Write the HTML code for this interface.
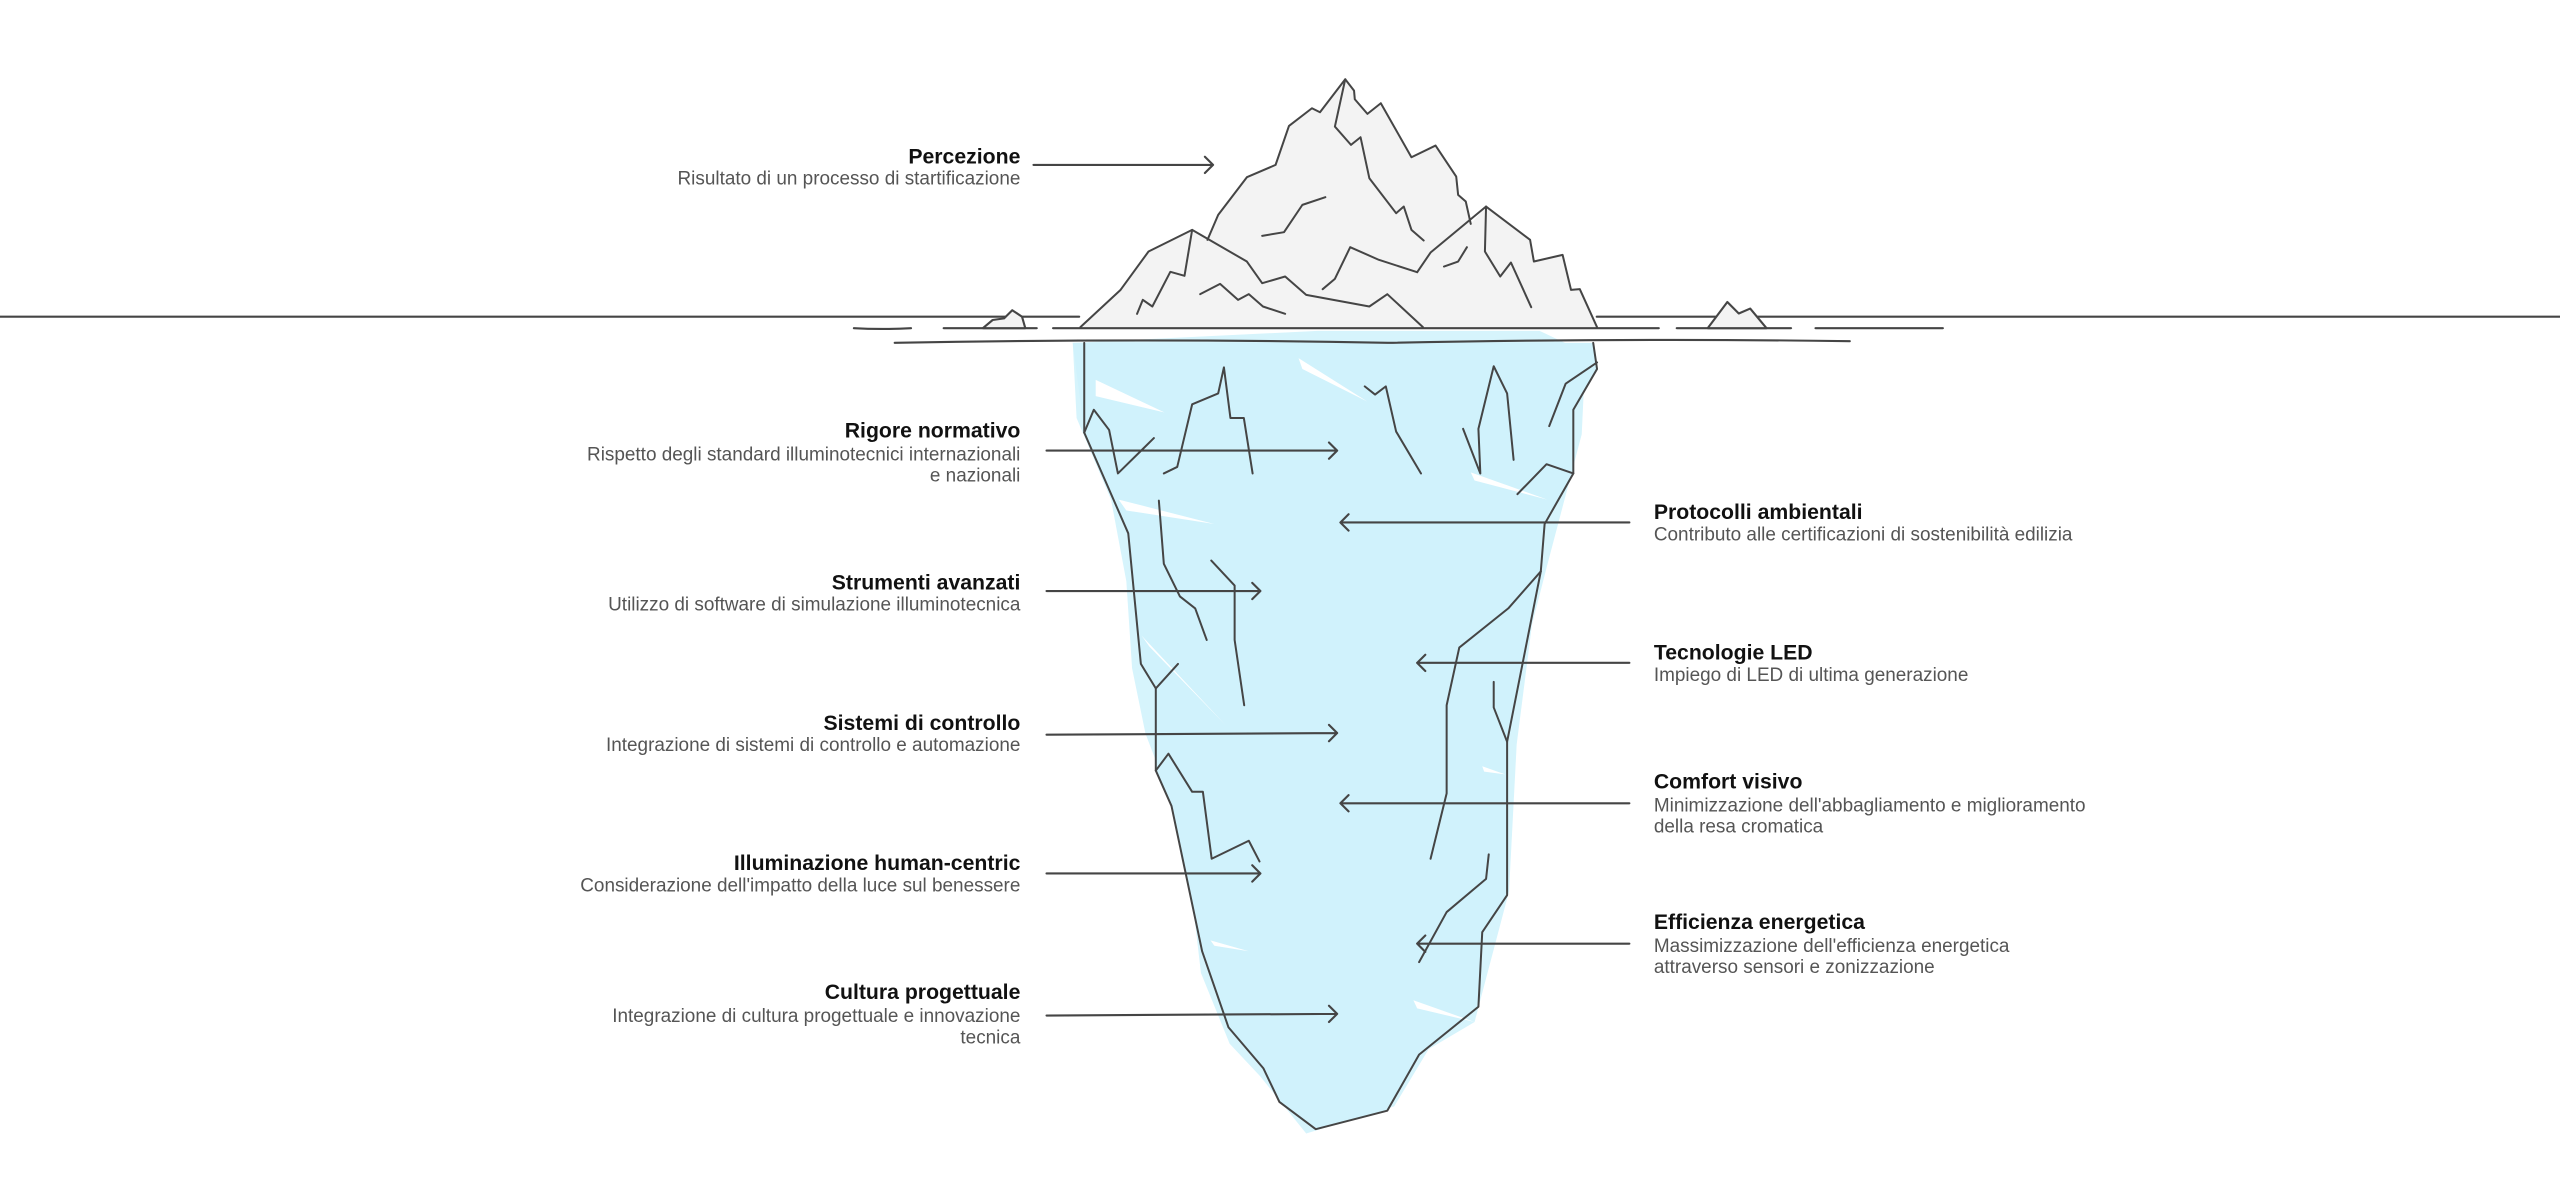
<!DOCTYPE html>
<html><head><meta charset="utf-8"><style>
html,body{margin:0;padding:0;background:#fff;width:2560px;height:1200px;overflow:hidden}
svg{display:block}
.t{font-family:"Liberation Sans",sans-serif;font-weight:bold;font-size:13px;fill:#111}
.d{font-family:"Liberation Sans",sans-serif;font-size:11.6px;fill:#555}
.s{fill:none;stroke:#454545;stroke-width:2;stroke-linejoin:round;stroke-linecap:round}
</style></head><body>
<svg width="2560" height="1200" viewBox="0 0 2560 1200" xmlns="http://www.w3.org/2000/svg">
<g transform="scale(1.63265)">
<!-- underwater -->
<g transform="translate(643,196) scale(0.2344,0.3333)">
<polygon fill="#d6f4fc" points="60,42 70,180 160,330 200,480 215,640 250,760 310,870 370,1050 395,1200 470,1330 550,1390 670,1495 900,1445 990,1340 1110,1290 1200,1050 1220,780 1260,560 1300,450 1390,210 1400,60 1280,20 700,20"/>
<polygon fill="#d0f2fc" points="60,42 90,207 205,392 238,632 277,677 277,828 318,893 398,1160 467,1300 558,1375 600,1437 695,1487 882,1453 965,1350 1120,1262 1130,1125 1195,1057 1195,775 1283,462 1293,375 1368,282 1368,165 1430,90 1420,42"/>
<g fill="#fff">
<polygon points="120,110 300,170 120,140"/><polygon points="180,330 430,375 200,350"/><polygon points="240,580 460,745 260,600"/><polygon points="650,70 830,150 660,90"/><polygon points="1100,280 1300,330 1110,295"/><polygon points="1130,820 1190,835 1135,830"/><polygon points="420,1140 520,1160 430,1150"/><polygon points="950,1250 1110,1290 960,1265"/>
</g>
<polyline class="s" vector-effect="non-scaling-stroke" points="90,42 90,207 205,392 238,632 277,677 277,828 318,893 398,1160 467,1300 558,1375 600,1437 695,1487 882,1453 965,1350 1120,1262 1130,1125 1195,1057 1195,775 1283,462 1293,375 1368,282 1368,165 1430,90 1420,42"/>
<polyline class="s" vector-effect="non-scaling-stroke" points="90,207 115,165 155,202 178,282 272,217"/>
<polyline class="s" vector-effect="non-scaling-stroke" points="298,282 333,270 372,155 440,135 455,87 472,180 507,180 530,282"/>
<polyline class="s" vector-effect="non-scaling-stroke" points="285,332 298,448 340,508 380,530 410,588"/>
<polyline class="s" vector-effect="non-scaling-stroke" points="422,442 483,488 483,588 508,708"/>
<polyline class="s" vector-effect="non-scaling-stroke" points="277,677 335,632"/>
<polyline class="s" vector-effect="non-scaling-stroke" points="277,828 310,797 372,867 400,867 423,990 520,957 548,995"/>
<polyline class="s" vector-effect="non-scaling-stroke" points="823,122 850,137 878,122 905,205 970,282"/>
<polyline class="s" vector-effect="non-scaling-stroke" points="1080,200 1125,282 1120,200 1160,85 1195,135 1212,257"/>
<polyline class="s" vector-effect="non-scaling-stroke" points="1305,195 1348,117 1430,78"/>
<polyline class="s" vector-effect="non-scaling-stroke" points="1222,320 1298,265 1368,282"/>
<polyline class="s" vector-effect="non-scaling-stroke" points="1283,462 1198,530 1070,602 1037,708 1037,870 995,990"/>
<polyline class="s" vector-effect="non-scaling-stroke" points="1160,665 1160,712 1195,775"/>
<polyline class="s" vector-effect="non-scaling-stroke" points="1147,982 1140,1027 1037,1088 965,1180"/>
</g>
<!-- above water -->
<g transform="translate(643,36.7) scale(0.2344,0.2041)">
<polygon fill="#f3f3f3" points="80,802 185,690 258,575 372,510 412,540 440,465 515,352 590,315 625,198 685,145 706,157 772,58 795,92 797,118 830,162 865,130 945,292 1008,257 1062,350 1067,405 1087,425 1100,492 1140,440 1255,540 1265,605 1340,585 1362,690 1385,688 1430,802"/>
<polyline class="s" vector-effect="non-scaling-stroke" points="80,802 185,690 258,575 372,510 515,605 555,670 615,650 670,705 835,740 882,703 975,802"/>
<polyline class="s" vector-effect="non-scaling-stroke" points="372,510 352,648 315,636 268,740 243,720 228,762"/>
<polyline class="s" vector-effect="non-scaling-stroke" points="412,540 440,465 515,352 590,315 625,198 685,145 706,157 772,58 795,92 797,118 830,162 865,130 945,292 1008,257 1062,350 1067,405 1087,425 1100,492"/>
<polyline class="s" vector-effect="non-scaling-stroke" points="772,58 745,200 787,255 812,232 835,355 905,460 925,440 945,510 977,542"/>
<polyline class="s" vector-effect="non-scaling-stroke" points="960,637 995,578 1140,440 1255,540 1265,605 1340,585 1362,690 1385,688 1430,802"/>
<polyline class="s" vector-effect="non-scaling-stroke" points="1140,440 1137,575 1177,650 1205,608 1258,742"/>
<polyline class="s" vector-effect="non-scaling-stroke" points="1030,620 1067,605 1090,562"/>
<polyline class="s" vector-effect="non-scaling-stroke" points="960,637 860,600 785,562 745,657 713,688"/>
<polyline class="s" vector-effect="non-scaling-stroke" points="555,528 612,517 660,435 720,412"/>
<polyline class="s" vector-effect="non-scaling-stroke" points="393,703 445,672 492,720 520,703 557,740 615,762"/>
</g>
<!-- water lines -->
<g class="s" style="stroke-width:1.3">
<line x1="0" y1="194" x2="661" y2="194"/><line x1="978" y1="194" x2="1568" y2="194"/>
<path d="M523 201 Q540 202 558 201"/><line x1="578" y1="201" x2="635" y2="201"/><line x1="645" y1="201" x2="1016" y2="201"/>
<line x1="1027" y1="201" x2="1097" y2="201"/><line x1="1112" y1="201" x2="1190" y2="201"/>
<path d="M548 210 Q700 207 850 210 Q1000 207 1133 209"/>
<polygon points="602,201 608,196 615,195 620,190 626,194 628,201" fill="#f3f3f3"/>
<polygon points="1046,201 1058,185 1065,192 1072,189 1082,201" fill="#f3f3f3"/>
</g>
<!-- arrows -->
<g class="s" style="stroke-width:1.3">
<path d="M633 101H743M738 96L743 101L738 106"/>
<path d="M641 276H819M814 271L819 276L814 281"/>
<path d="M641 362H772M767 357L772 362L767 367"/>
<path d="M641 450L819 449M814 444L819 449L814 454"/>
<path d="M641 535H772M767 530L772 535L767 540"/>
<path d="M641 622L819 621M814 616L819 621L814 626"/>
<path d="M998 320H821M826 315L821 320L826 325"/>
<path d="M998 406H868M873 401L868 406L873 411"/>
<path d="M998 492H821M826 487L821 492L826 497"/>
<path d="M998 578H868M873 573L868 578L873 583"/>
</g>
<!-- labels left -->
<g text-anchor="end">
<text class="t" x="625" y="100">Percezione</text>
<text class="d" x="625" y="113">Risultato di un processo di startificazione</text>
<text class="t" x="625" y="268">Rigore normativo</text>
<text class="d" x="625" y="282">Rispetto degli standard illuminotecnici internazionali</text>
<text class="d" x="625" y="295">e nazionali</text>
<text class="t" x="625" y="361">Strumenti avanzati</text>
<text class="d" x="625" y="374">Utilizzo di software di simulazione illuminotecnica</text>
<text class="t" x="625" y="447">Sistemi di controllo</text>
<text class="d" x="625" y="460">Integrazione di sistemi di controllo e automazione</text>
<text class="t" x="625" y="533">Illuminazione human-centric</text>
<text class="d" x="625" y="546">Considerazione dell'impatto della luce sul benessere</text>
<text class="t" x="625" y="612">Cultura progettuale</text>
<text class="d" x="625" y="626">Integrazione di cultura progettuale e innovazione</text>
<text class="d" x="625" y="639">tecnica</text>
</g>
<g>
<text class="t" x="1013" y="318">Protocolli ambientali</text>
<text class="d" x="1013" y="331">Contributo alle certificazioni di sostenibilità edilizia</text>
<text class="t" x="1013" y="404">Tecnologie LED</text>
<text class="d" x="1013" y="417">Impiego di LED di ultima generazione</text>
<text class="t" x="1013" y="483">Comfort visivo</text>
<text class="d" x="1013" y="497">Minimizzazione dell'abbagliamento e miglioramento</text>
<text class="d" x="1013" y="510">della resa cromatica</text>
<text class="t" x="1013" y="569">Efficienza energetica</text>
<text class="d" x="1013" y="583">Massimizzazione dell'efficienza energetica</text>
<text class="d" x="1013" y="596">attraverso sensori e zonizzazione</text>
</g>
</g>
</svg>
</body></html>
